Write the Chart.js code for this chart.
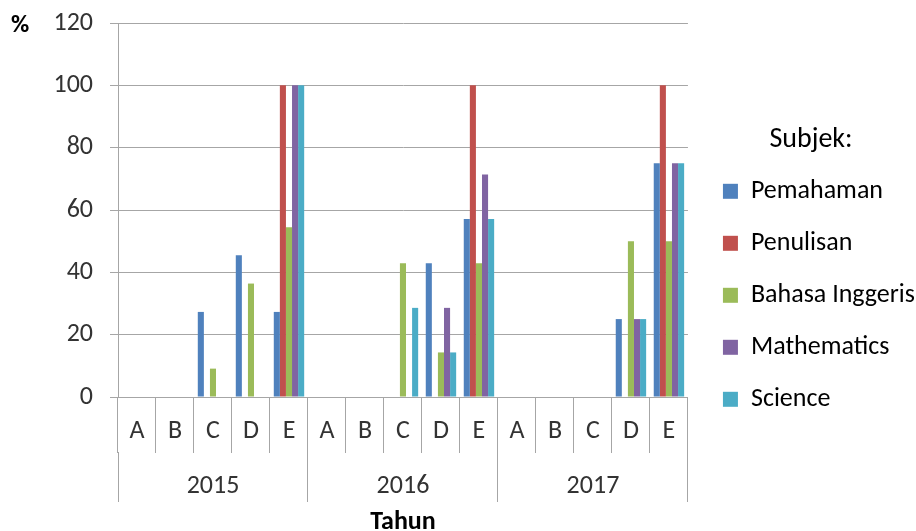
<!DOCTYPE html>
<html>
<head>
<meta charset="utf-8">
<script src="https://cdn.jsdelivr.net/npm/chart.js@4.4.1/dist/chart.umd.min.js"></script>
<style>
  html, body { margin: 0; padding: 0; background: #fff; }
  #wrap { width: 916px; height: 531px; }
</style>
</head>
<body>
<div id="wrap"><canvas id="chart"></canvas></div>
<script>
// data
const years = ['2015', '2016', '2017'];
const grades = ['A', 'B', 'C', 'D', 'E', 'A', 'B', 'C', 'D', 'E', 'A', 'B', 'C', 'D', 'E'];
const yTicks = [0, 20, 40, 60, 80, 100, 120];

const pemahaman = [0, 0, 27.3, 45.5, 27.3, 0, 0, 0, 42.9, 57.1, 0, 0, 0, 25, 75];
const penulisan = [0, 0, 0, 0, 100, 0, 0, 0, 0, 100, 0, 0, 0, 0, 100];
const bahasaInggeris = [0, 0, 9.1, 36.4, 54.5, 0, 0, 42.9, 14.3, 42.9, 0, 0, 0, 50, 50];
const mathematics = [0, 0, 0, 0, 100, 0, 0, 0, 28.6, 71.4, 0, 0, 0, 25, 75];
const science = [0, 0, 0, 0, 100, 0, 0, 28.6, 14.3, 57.1, 0, 0, 0, 25, 75];

const colors = {
    blue: '#4F81BD',
    red: '#C0504D',
    green: '#9BBB59',
    purple: '#8064A2',
    cyan: '#4BACC6',
    grid: '#a6a6a6',
    text: '#333333'
};

const fontFamily = "Carlito, 'Liberation Sans', Arial, sans-serif";

// the "%" unit label at the top left
const unitLabel = {
    id: 'unitLabel',
    afterDraw(chart) {
        const ctx = chart.ctx;
        ctx.save();
        ctx.font = 'bold 25px ' + fontFamily;
        ctx.fillStyle = '#000';
        ctx.textBaseline = 'middle';
        ctx.fillText('%', 11, 26);
        ctx.restore();
    }
};

// nudge the legend a little right and down, as in the original
const legendNudge = {
    id: 'legendNudge',
    afterLayout(chart) {
        const lg = chart.legend;
        lg.left += 9;
        lg.right += 9;
        lg.top += 5;
        lg.bottom += 5;
    }
};

function bar(label, data, color) {
    return { label, data, backgroundColor: color, borderWidth: 0, categoryPercentage: 0.8, barPercentage: 1 };
}

new Chart(document.getElementById('chart'), {
    type: 'bar',
    data: {
        labels: grades,
        datasets: [
            bar('Pemahaman', pemahaman, colors.blue),
            bar('Penulisan', penulisan, colors.red),
            bar('Bahasa Inggeris', bahasaInggeris, colors.green),
            bar('Mathematics', mathematics, colors.purple),
            bar('Science', science, colors.cyan)
        ]
    },
    options: {
        responsive: true,
        maintainAspectRatio: false,
        animation: false,
        layout: { padding: { top: 23, right: 0, left: 0, bottom: 0 } },
        plugins: {
            legend: {
                position: 'right',
                align: 'center',
                title: { display: true, text: 'Subjek:', color: '#000', font: { family: fontFamily, size: 28 }, padding: { top: 0, bottom: -7 } },
                labels: { boxWidth: 15, boxHeight: 15, padding: 26, color: '#000', font: { family: fontFamily, size: 26 } }
            },
            tooltip: { enabled: false }
        },
        scales: {
            y: {
                min: 0,
                max: 120,
                afterBuildTicks: s => { s.ticks = yTicks.map(v => ({ value: v })); },
                afterFit: s => { s.width = 118; s.paddingTop = 0; s.paddingBottom = 0; },
                grid: { color: colors.grid, tickLength: 8 },
                border: { color: colors.grid },
                ticks: { padding: 17, color: colors.text, font: { family: fontFamily, size: 26 } }
            },
            x: {
                offset: true,
                afterFit: s => { s.height = 55; },
                grid: { offset: true, drawOnChartArea: false, tickLength: 56, color: colors.grid },
                border: { color: colors.grid },
                ticks: { padding: -37, color: colors.text, font: { family: fontFamily, size: 26 } }
            },
            x2: {
                type: 'category',
                labels: years,
                position: 'bottom',
                offset: true,
                afterFit: s => { s.height = 79; },
                grid: { offset: true, drawOnChartArea: false, tickLength: 50, color: colors.grid },
                border: { display: false },
                ticks: { padding: -31, color: colors.text, font: { family: fontFamily, size: 26 } },
                title: { display: true, text: 'Tahun', color: '#000', font: { family: fontFamily, size: 26, weight: 'bold' }, padding: { top: 0, bottom: -7 } }
            }
        }
    },
    plugins: [unitLabel, legendNudge]
});
</script>
</body>
</html>
